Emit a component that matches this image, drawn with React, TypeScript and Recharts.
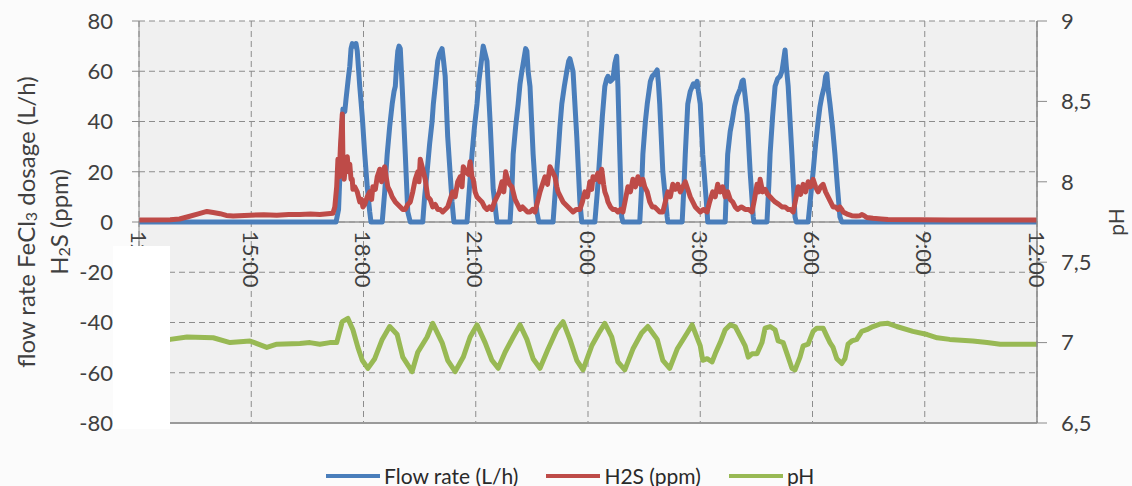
import React from "react";
import { LineChart, Line, XAxis, YAxis, CartesianGrid, ReferenceLine, Legend } from "recharts";

// time in minutes after 12:00 (day 1) -> value
const flowRate: [number, number][] = [
  [0,0],[316,0],[320,5],[324,30],[327,45],[330,44],[332,49],[336,58],[338,62],[340,69],[342,71],[346,70],[348,71],[350,68],[354,54],[358,42],[362,27],[366,14],[370,4],[372,0],
  [390,0],[394,12],[398,27],[402,38],[406,47],[409,52],[411,54],[413,62],[415,68],[417,70],[419,69],[422,54],[427,27],[431,4],[435,0],
  [455,0],[458,10],[462,20],[466,31],[470,40],[472,47],[475,54],[479,64],[482,67],[486,69],[488,65],[491,58],[495,34],[502,8],[505,0],
  [526,0],[530,14],[534,27],[538,38],[542,47],[545,56],[547,60],[550,66],[552,70],[555,67],[558,64],[563,40],[568,13],[574,0],
  [595,0],[598,13],[600,27],[604,38],[608,47],[611,55],[614,60],[618,66],[620,69],[622,68],[624,60],[627,54],[632,27],[638,4],[641,0],
  [664,0],[668,14],[672,27],[675,38],[678,47],[682,54],[686,60],[689,64],[691,65],[693,63],[696,60],[702,34],[707,8],[710,0],
  [731,0],[735,12],[739,27],[743,42],[747,54],[750,57],[752,58],[756,56],[760,57],[763,63],[766,66],[768,54],[771,27],[774,2],[776,0],
  [803,0],[806,14],[808,27],[812,40],[815,47],[820,56],[823,58],[827,59],[831,60.5],[833,55],[835,47],[840,20],[847,2],[848,0],
  [871,0],[874,15],[876,27],[880,47],[884,52],[889,55],[892,54],[895,56],[897,52],[900,47],[904,27],[911,4],[912,0],
  [940,0],[942,14],[944,27],[948,36],[951,40],[955,46],[959,50],[964,53],[967,56],[969,56.5],[972,50],[975,43],[980,20],[985,2],[986,0],
  [1007,0],[1010,15],[1012,27],[1016,42],[1020,54],[1024,57],[1028,58],[1031,60],[1034,65],[1036,68.5],[1038,62],[1041,54],[1047,27],[1052,2],[1054,0],
  [1073,0],[1077,10],[1081,20],[1085,31],[1089,40],[1092,46],[1095,50],[1099,54],[1101,58],[1103,59],[1105,53],[1108,47],[1112,38],[1116,27],[1120,14],[1124,2],[1127,0],
  [1440,0],
];

const h2s: [number, number][] = [
  [0,0.8],[50,0.9],[65,1.2],[77,2],[95,3.2],[109,4.2],[119,3.8],[130,3.3],[140,2.6],[151,2.4],[178,2.7],[200,2.9],[221,2.7],[240,3],[258,3],[275,3.2],[290,3],[311,3.5],
  [314,6],[317,14],[319,25],[321,18],[323,30],[326,43],[327,25],[329,17],[331,22],[334,26],[336,20],[338,23],[340,17],[342,17],[343,13],[346,14],[350,12],[354,8],[357,9],[359,6],[362,7],[366,10],[370,12],[373,9],[375,14],[379,13],[382,18],[386,21],[389,16],[391,20],[394,22],[397,17],[399,14],[403,12],[406,10],[411,8],[415,7],[419,6],[423,5],[427,5],[431,7],[435,8],[439,12],[443,17],[447,20],[449,16],[451,25],[454,22],[457,19],[459,17],[463,10],[467,9],[471,6],[475,7],[479,5],[483,5],[487,4],[491,5],[495,6],[499,9],[503,12],[507,10],[511,16],[515,18],[518,14],[520,22],[524,20],[528,19],[531,24],[534,18],[536,17],[539,12],[542,10],[546,9],[550,8],[554,6],[558,5],[562,6],[566,5],[570,8],[574,10],[578,12],[582,16],[585,12],[588,20],[590,18],[594,15],[598,14],[603,9],[607,7],[611,5],[615,6],[619,5],[623,4],[627,4],[631,5],[635,4],[639,8],[643,12],[647,15],[651,18],[655,15],[659,22],[663,20],[667,18],[670,14],[672,12],[676,10],[680,8],[684,7],[688,6],[692,5],[696,4],[701,5],[707,5],[711,8],[715,12],[719,10],[723,16],[726,13],[728,18],[732,17],[736,19.5],[739,16],[742,21],[745,15],[747,12],[750,10],[752,8],[756,6],[760,5],[764,5],[768,4],[772,5],[776,4],[780,9],[784,14],[788,12],[792,17],[796,14],[800,18],[804,15],[808,17],[811,14],[815,12],[819,8],[823,6],[827,6],[831,5],[835,4],[840,4],[844,8],[848,12],[852,10],[856,15],[860,13],[864,15],[868,12],[872,14],[876,16],[880,13],[884,10],[888,8],[892,6],[896,5],[900,4],[905,5],[911,4],[915,8],[920,12],[924,10],[928,15],[932,12],[936,14],[940,10],[944,12],[948,9],[952,8],[956,6],[960,5],[966,6],[972,5],[978,5],[983,4],[987,9],[991,15],[994,12],[996,17],[1000,12],[1004,13],[1008,11],[1012,10],[1016,9],[1020,8],[1026,7],[1031,6],[1036,6],[1041,5],[1045,5],[1049,4],[1053,9],[1057,14],[1061,11],[1065,15],[1069,12],[1073,16],[1077,14],[1081,17],[1085,14],[1089,12],[1093,14],[1097,15],[1101,12],[1105,10],[1109,8],[1113,6],[1117,6],[1121,5],[1124,6],[1127,5],[1129,4],[1133,3.5],[1137,3],[1143,2.5],[1150,2.4],[1156,2.5],[1159,3],[1163,2.5],[1167,1.8],[1177,1.5],[1190,1.2],[1201,1.0],[1250,0.9],[1300,0.8],[1440,0.8],
];

const ph: [number, number][] = [
  [0,7.02],[50,7.02],[77,7.035],[119,7.03],[146,7.0],[178,7.01],[205,6.97],[221,6.99],[258,6.995],[274,7.0],[290,6.99],[306,7.0],[317,7.0],
  [326,7.13],[335,7.15],[343,7.08],[351,6.97],[358,6.89],[367,6.84],[378,6.9],[390,7.02],[402,7.1],[414,7.05],[423,6.91],[438,6.82],[447,6.94],
  [462,7.035],[471,7.12],[486,7.0],[495,6.89],[507,6.82],[520,6.91],[531,7.035],[542,7.11],[555,7.0],[566,6.89],[576,6.84],[587,6.94],
  [600,7.035],[611,7.11],[622,7.02],[632,6.9],[643,6.84],[656,6.96],[670,7.08],[680,7.13],[691,7.02],[702,6.89],[712,6.83],[726,6.98],
  [739,7.07],[747,7.12],[758,7.035],[768,6.88],[779,6.83],[792,6.96],[806,7.06],[816,7.1],[831,7.02],[840,6.89],[851,6.84],[863,6.96],
  [879,7.06],[887,7.11],[896,7.02],[900,6.98],[904,6.89],[911,6.9],[919,6.88],[924,6.93],[932,7.0],[940,7.08],[948,7.11],[956,7.1],
  [964,7.04],[972,6.98],[977,6.91],[983,6.93],[991,6.93],[999,7.0],[1004,7.09],[1012,7.1],[1020,7.08],[1025,7.01],[1033,7.0],[1041,6.91],
  [1047,6.84],[1052,6.83],[1060,6.91],[1065,6.98],[1073,6.99],[1081,7.07],[1087,7.09],[1097,7.09],[1103,7.04],[1108,7.0],[1113,6.97],
  [1119,6.9],[1127,6.87],[1132,6.9],[1137,6.99],[1143,7.01],[1151,7.02],[1159,7.07],[1167,7.08],[1177,7.1],[1188,7.115],[1201,7.12],
  [1215,7.1],[1241,7.07],[1264,7.05],[1280,7.03],[1300,7.02],[1337,7.01],[1360,7.0],[1381,6.99],[1440,6.99],
];

const X_TICKS = [0, 180, 360, 540, 720, 900, 1080, 1260, 1440];
const X_TICK_LABELS = ["12:00", "15:00", "18:00", "21:00", "0:00", "3:00", "6:00", "9:00", "12:00"];
const LEFT_TICKS = [-80, -60, -40, -20, 0, 20, 40, 60, 80];
const RIGHT_TICKS = [6.5, 7, 7.5, 8, 8.5, 9];

const SERIES_NAMES = ["Flow rate (L/h)", "H2S (ppm)", "pH"];
const COLORS = ["#4A7EBB", "#BE4B48", "#98B954"];

const toRows = (arr: [number, number][]) => arr.map(([t, v]) => ({ t, v }));
const flowData = toRows(flowRate);
const h2sData = toRows(h2s);
const phData = toRows(ph);

const FONT = "Lato, 'Open Sans', 'DejaVu Sans', sans-serif";
const TEXT = "#404040";

const CHART_W = 1132;
const CHART_H = 486;
const MARGIN_TOP = 21;
const X_AXIS_H = 43;
const LEGEND_H = 20;
const LEFT_W = 139;
const RIGHT_W = 95;
const Y_MIN = -80;
const Y_MAX = 80;
const PLOT_H = CHART_H - MARGIN_TOP - X_AXIS_H - LEGEND_H;
const ZERO_Y = MARGIN_TOP + (PLOT_H * Y_MAX) / (Y_MAX - Y_MIN);

const XTick = (props: any) => {
  const { x, payload } = props;
  const idx = X_TICKS.indexOf(payload.value);
  const label = idx >= 0 ? X_TICK_LABELS[idx] : "";
  return (
    <text
      transform={`translate(${x},${ZERO_Y + 9}) rotate(90)`}
      textAnchor="start"
      dominantBaseline="central"
      fontSize={22}
      fontFamily={FONT}
      fill={TEXT}
    >
      {label}
    </text>
  );
};

const LeftTitle = (props: any) => {
  const vb = props.viewBox || { x: 0, y: MARGIN_TOP, width: LEFT_W, height: PLOT_H };
  const cy = vb.y + vb.height / 2;
  return (
    <g fontFamily={FONT} fill={TEXT} fontSize={24}>
      <text transform={`translate(${vb.x + 25},${cy}) rotate(-90)`} textAnchor="middle" dominantBaseline="central">
        flow rate FeCl<tspan dy={5} fontSize={16}>3</tspan>
        <tspan dy={-5}> dosage (L/h)</tspan>
      </text>
      <text transform={`translate(${vb.x + 58},${cy}) rotate(-90)`} textAnchor="middle" dominantBaseline="central">
        H<tspan dy={5} fontSize={16}>2</tspan>
        <tspan dy={-5}>S (ppm)</tspan>
      </text>
    </g>
  );
};

const RightTitle = (props: any) => {
  const vb = props.viewBox || { x: CHART_W - RIGHT_W, y: MARGIN_TOP, width: RIGHT_W, height: PLOT_H };
  const cy = vb.y + vb.height / 2;
  return (
    <text
      transform={`translate(${vb.x + vb.width - 17},${cy}) rotate(-90)`}
      textAnchor="middle"
      dominantBaseline="central"
      fontFamily={FONT}
      fontSize={21}
      fill={TEXT}
    >
      pH
    </text>
  );
};

const renderLegend = (props: any) => {
  const payload = props.payload || [];
  return (
    <div
      style={{
        display: "flex",
        alignItems: "center",
        height: LEGEND_H,
        paddingLeft: 326,
        fontFamily: FONT,
        fontSize: 21,
        color: "#2a2a2a",
        lineHeight: `${LEGEND_H}px`,
      }}
    >
      {payload.map((e: any, i: number) => (
        <div key={i} style={{ display: "flex", alignItems: "center", marginRight: 28 }}>
          <svg width={54} height={6} style={{ display: "block" }}>
            <line x1={0} y1={3} x2={54} y2={3} stroke={e.color} strokeWidth={4} />
          </svg>
          <span style={{ marginLeft: 4, whiteSpace: "nowrap" }}>{e.value}</span>
        </div>
      ))}
    </div>
  );
};

export default function App() {
  return (
    <div style={{ position: "absolute", left: 0, top: 0, width: CHART_W, height: CHART_H, background: "#fbfbfb" }}>
      <LineChart width={CHART_W} height={CHART_H} margin={{ top: MARGIN_TOP, right: 0, left: 0, bottom: 0 }}>
        <CartesianGrid
          yAxisId="left"
          fill="#f0f0f0"
          stroke="#8c8c8c"
          strokeDasharray="6 4"
          horizontal
          vertical
        />
        <XAxis
          dataKey="t"
          type="number"
          domain={[0, 1440]}
          ticks={X_TICKS}
          interval={0}
          allowDataOverflow
          height={X_AXIS_H}
          tickLine={false}
          tick={<XTick />}
          axisLine={{ stroke: "#9a9a9a", strokeWidth: 2 }}
        />
        <YAxis
          yAxisId="left"
          width={LEFT_W}
          domain={[Y_MIN, Y_MAX]}
          ticks={LEFT_TICKS}
          interval={0}
          allowDataOverflow
          tickSize={7}
          tickMargin={19}
          tick={{ fontSize: 22, fill: TEXT, fontFamily: FONT }}
          axisLine={{ stroke: "#8a8a8a" }}
          tickLine={{ stroke: "#8a8a8a" }}
          label={(p: any) => <LeftTitle {...p} />}
        />
        <YAxis
          yAxisId="right"
          orientation="right"
          width={RIGHT_W}
          domain={[6.5, 9]}
          ticks={RIGHT_TICKS}
          interval={0}
          allowDataOverflow
          tickSize={10}
          tickMargin={14}
          tickFormatter={(v: number) => String(v).replace(".", ",")}
          tick={{ fontSize: 22, fill: TEXT, fontFamily: FONT, textAnchor: "start" }}
          axisLine={{ stroke: "#8a8a8a", strokeWidth: 1.5 }}
          tickLine={{ stroke: "#8a8a8a" }}
          label={(p: any) => <RightTitle {...p} />}
        />
        <ReferenceLine yAxisId="left" y={0} stroke="#949494" strokeWidth={1.5} />
        <Line
          data={flowData}
          dataKey="v"
          yAxisId="left"
          name={SERIES_NAMES[0]}
          stroke={COLORS[0]}
          strokeWidth={5}
          strokeLinejoin="round"
          dot={false}
          type="linear"
          isAnimationActive={false}
        />
        <Line
          data={h2sData}
          dataKey="v"
          yAxisId="left"
          name={SERIES_NAMES[1]}
          stroke={COLORS[1]}
          strokeWidth={5}
          strokeLinejoin="round"
          dot={false}
          type="linear"
          isAnimationActive={false}
        />
        <Line
          data={phData}
          dataKey="v"
          yAxisId="right"
          name={SERIES_NAMES[2]}
          stroke={COLORS[2]}
          strokeWidth={5}
          strokeLinejoin="round"
          dot={false}
          type="linear"
          isAnimationActive={false}
        />
        <Legend
          verticalAlign="bottom"
          content={renderLegend}
          wrapperStyle={{ left: 0, width: CHART_W, bottom: 0, height: LEGEND_H }}
        />
      </LineChart>
      <div style={{ position: "absolute", left: 113, top: 246, width: 57, height: 183, background: "#ffffff" }} />
    </div>
  );
}
